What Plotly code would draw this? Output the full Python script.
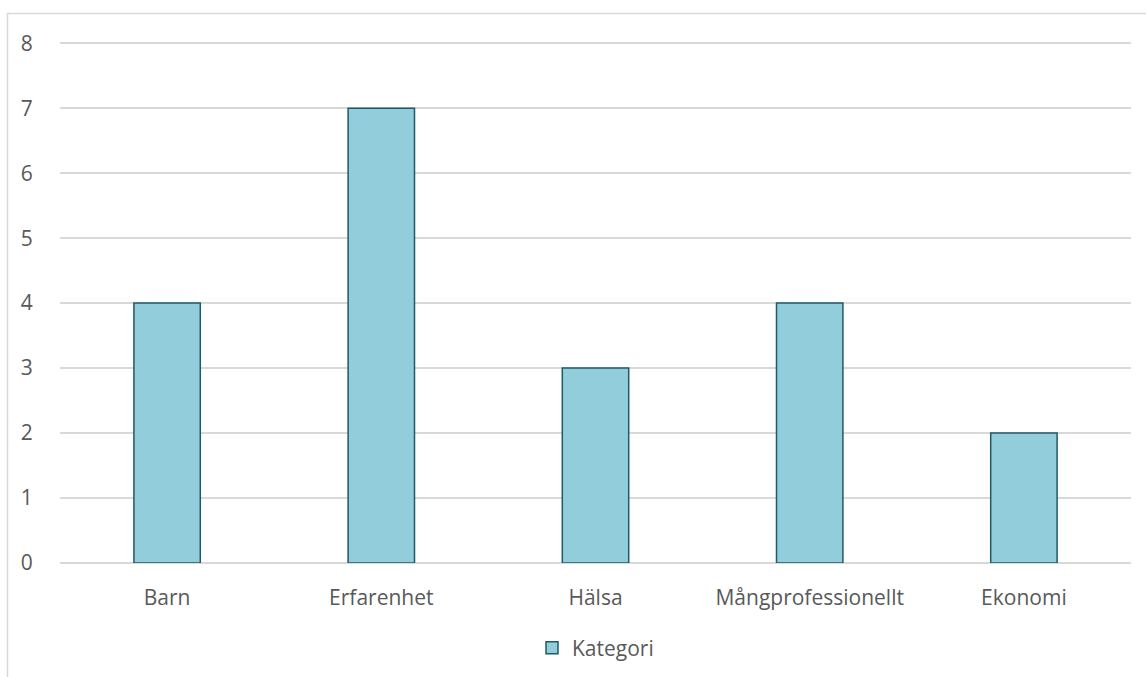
import plotly.graph_objects as go

categories = ["Barn", "Erfarenhet", "Hälsa", "Mångprofessionellt", "Ekonomi"]
values = [4, 7, 3, 4, 2]
series_name = "Kategori"
y_ticks = [0, 1, 2, 3, 4, 5, 6, 7, 8]

W, H = 1146, 677
L, R, T, B = 60, 15, 40, 114
pw, ph = W - L - R, H - T - B
y_max = 8.05

font_family = "Open Sans, Lato, sans-serif"
text_color = "#595959"
grid_color = "#d9d9d9"
fs = 21

fig = go.Figure()
fig.add_trace(go.Bar(
    x=categories,
    y=values,
    name=series_name,
    width=0.31,
    marker=dict(color="#92cddc", line=dict(color="#215968", width=1.5)),
    showlegend=True,
))

# outer chart frame (left and top edges visible, right/bottom run off the page)
fig.add_shape(
    type="rect", xref="paper", yref="paper",
    x0=(7.5 - L) / pw, x1=1.2,
    y0=-0.5, y1=(H - B - 13.5) / ph,
    line=dict(color=grid_color, width=1.5),
    fillcolor="rgba(0,0,0,0)", layer="below",
)

fig.update_layout(
    width=W, height=H,
    margin=dict(l=L, r=R, t=T, b=B, autoexpand=False),
    paper_bgcolor="white", plot_bgcolor="white",
    font=dict(family=font_family, size=fs, color=text_color),
    bargap=0.69,
    xaxis=dict(
        type="category",
        showgrid=False, zeroline=False,
        showline=False,
        ticks="outside", ticklen=16, tickcolor="rgba(0,0,0,0)",
        tickfont=dict(size=fs, color=text_color),
    ),
    yaxis=dict(
        range=[0, y_max],
        tickvals=y_ticks,
        showgrid=True, gridcolor=grid_color, gridwidth=1.5,
        zeroline=True, zerolinecolor=grid_color, zerolinewidth=1.5,
        showline=False,
        ticks="outside", ticklen=22, tickcolor="rgba(0,0,0,0)",
        tickfont=dict(size=fs, color=text_color),
    ),
    legend=dict(
        orientation="h",
        x=0.5, xanchor="center",
        y=-(648 - (H - B)) / ph, yanchor="middle",
        font=dict(size=fs, color=text_color),
        itemwidth=30,
    ),
)

fig.write_html("out.html")
